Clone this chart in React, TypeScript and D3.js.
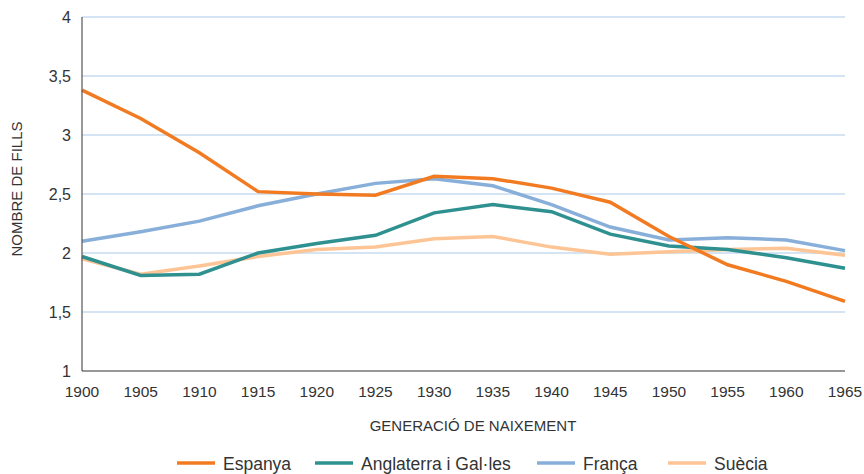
import * as d3 from "d3";
import React, { useEffect, useRef } from "react";

const years = [1900, 1905, 1910, 1915, 1920, 1925, 1930, 1935, 1940, 1945, 1950, 1955, 1960, 1965];
const espanya = [3.38, 3.14, 2.85, 2.52, 2.5, 2.49, 2.65, 2.63, 2.55, 2.43, 2.14, 1.9, 1.76, 1.59];
const anglaterra = [1.97, 1.81, 1.82, 2.0, 2.08, 2.15, 2.34, 2.41, 2.35, 2.16, 2.06, 2.03, 1.96, 1.87];
const franca = [2.1, 2.18, 2.27, 2.4, 2.5, 2.59, 2.63, 2.57, 2.41, 2.22, 2.11, 2.13, 2.11, 2.02];
const suecia = [1.95, 1.82, 1.89, 1.97, 2.03, 2.05, 2.12, 2.14, 2.05, 1.99, 2.01, 2.03, 2.04, 1.98];
const yTicks = [1, 1.5, 2, 2.5, 3, 3.5, 4];

interface Series {
  name: string;
  values: number[];
  color: string;
}

const series: Series[] = [
  { name: "Espanya", values: espanya, color: "#f27b22" },
  { name: "Anglaterra i Gal·les", values: anglaterra, color: "#2f9090" },
  { name: "França", values: franca, color: "#88afd9" },
  { name: "Suècia", values: suecia, color: "#fdc595" },
];
// draw order: bottom first
const drawOrder = ["Suècia", "França", "Anglaterra i Gal·les", "Espanya"];

const App = () => {
  const svgRef = useRef<SVGSVGElement>(null);

  useEffect(() => {
    const width = 864;
    const height = 474;
    const font = "'Liberation Sans', Arial, sans-serif";
    const textColor = "#333";

    const svg = d3.select(svgRef.current).attr("width", width).attr("height", height);
    svg.selectAll("*").remove();

    const x = d3.scaleLinear().domain([1900, 1965]).range([82, 845]);
    const y = d3.scaleLinear().domain([1, 4]).range([371, 17]);

    // gridlines
    svg
      .selectAll("line.grid")
      .data(yTicks.filter((t) => t > 1))
      .enter()
      .append("line")
      .attr("class", "grid")
      .attr("x1", x(1900))
      .attr("x2", x(1965))
      .attr("y1", (d) => y(d))
      .attr("y2", (d) => y(d))
      .attr("stroke", "#a9c9e8")
      .attr("stroke-width", 1);

    // y axis labels
    svg
      .selectAll("text.ytick")
      .data(yTicks)
      .enter()
      .append("text")
      .attr("class", "ytick")
      .attr("x", 71)
      .attr("y", (d) => y(d) + 5.5)
      .attr("text-anchor", "end")
      .style("font-family", font)
      .style("font-size", "16px")
      .style("fill", textColor)
      .text((d) => String(d).replace(".", ","));

    // x axis labels
    svg
      .selectAll("text.xtick")
      .data(years)
      .enter()
      .append("text")
      .attr("class", "xtick")
      .attr("x", (d) => x(d))
      .attr("y", 397)
      .attr("text-anchor", "middle")
      .style("font-family", font)
      .style("font-size", "15.5px")
      .style("fill", textColor)
      .text((d) => d);

    // lines
    const line = d3
      .line<number>()
      .x((_, i) => x(years[i]))
      .y((d) => y(d));

    drawOrder.forEach((name) => {
      const s = series.find((d) => d.name === name)!;
      svg
        .append("path")
        .datum(s.values)
        .attr("d", line)
        .attr("fill", "none")
        .attr("stroke", s.color)
        .attr("stroke-width", 3.5)
        .attr("stroke-linejoin", "miter");
    });

    // axes lines
    svg
      .append("line")
      .attr("x1", x(1900))
      .attr("x2", x(1900))
      .attr("y1", y(4))
      .attr("y2", y(1))
      .attr("stroke", "#555")
      .attr("stroke-width", 1.2);
    svg
      .append("line")
      .attr("x1", x(1900))
      .attr("x2", x(1965))
      .attr("y1", y(1))
      .attr("y2", y(1))
      .attr("stroke", "#333")
      .attr("stroke-width", 1.2);

    // axis titles
    svg
      .append("text")
      .attr("transform", `translate(22,189) rotate(-90)`)
      .attr("text-anchor", "middle")
      .style("font-family", font)
      .style("font-size", "15px")
      .style("fill", textColor)
      .text("NOMBRE DE FILLS");
    svg
      .append("text")
      .attr("x", 473)
      .attr("y", 431)
      .attr("text-anchor", "middle")
      .style("font-family", font)
      .style("font-size", "15px")
      .style("fill", textColor)
      .text("GENERACIÓ DE NAIXEMENT");

    // legend
    const legendX = [177, 315, 537, 668];
    const legend = svg
      .selectAll("g.legend")
      .data(series)
      .enter()
      .append("g")
      .attr("class", "legend")
      .attr("transform", (d, i) => `translate(${legendX[i]},463)`);
    legend
      .append("line")
      .attr("x1", 0)
      .attr("x2", 38)
      .attr("stroke", (d) => d.color)
      .attr("stroke-width", 3.5);
    legend
      .append("text")
      .attr("x", 46)
      .attr("y", 6.5)
      .style("font-family", font)
      .style("font-size", "17.5px")
      .style("fill", textColor)
      .text((d) => d.name);
  }, []);

  return (
    <div style={{ position: "absolute", left: 0, top: 0 }}>
      <svg ref={svgRef}></svg>
    </div>
  );
};

export default App;
